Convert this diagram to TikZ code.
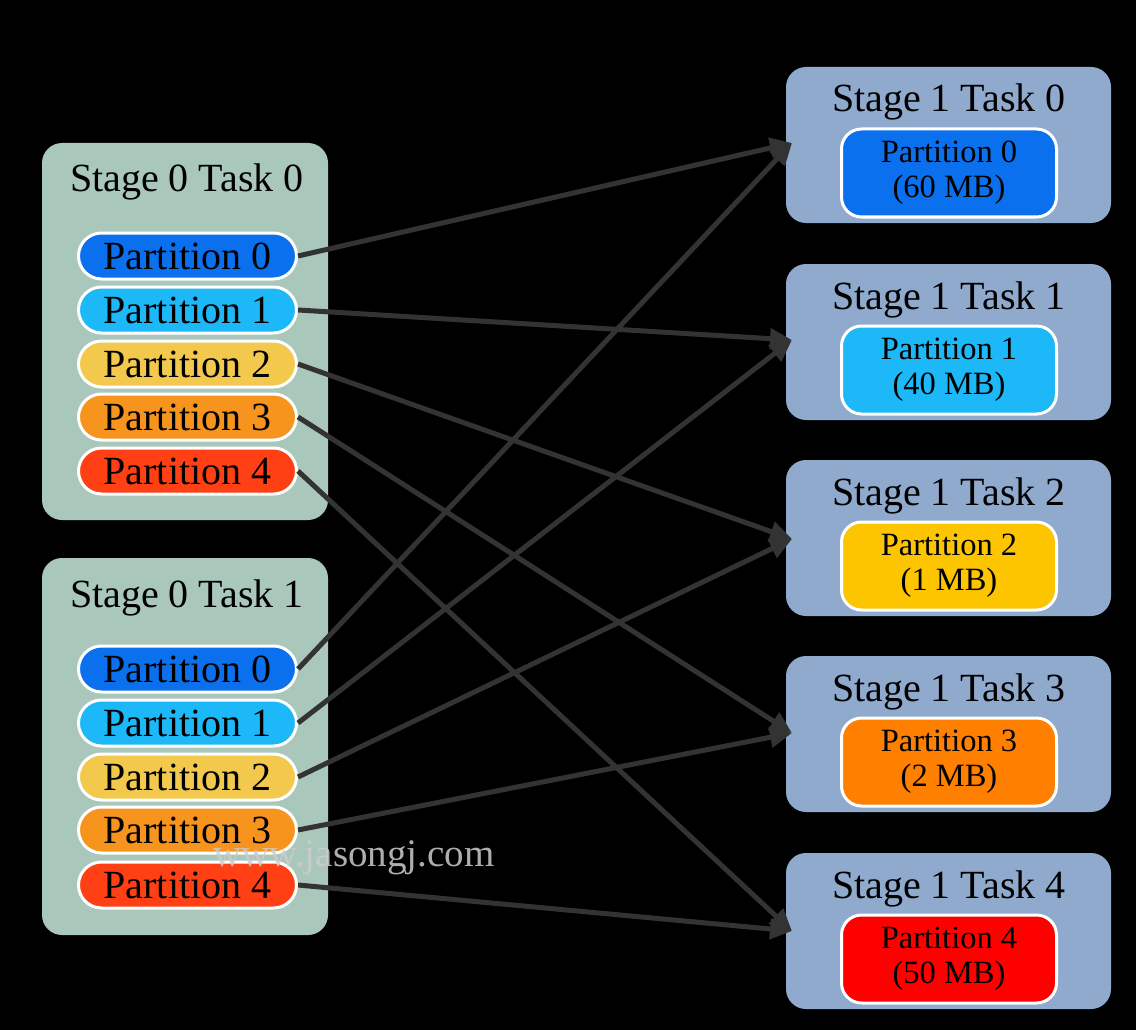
\documentclass[tikz,border=0pt]{standalone}
\usepackage{fontspec}
\setmainfont{Liberation Serif}
\usetikzlibrary{arrows.meta}
\definecolor{sage}{RGB}{169,199,187}
\definecolor{steel}{RGB}{143,170,204}
\definecolor{pblue}{RGB}{11,112,238}
\definecolor{pcyan}{RGB}{28,184,247}
\definecolor{pyelL}{RGB}{242,201,76}
\definecolor{poraL}{RGB}{247,148,29}
\definecolor{predL}{RGB}{255,63,20}
\definecolor{pyelR}{RGB}{252,197,0}
\definecolor{poraR}{RGB}{255,128,0}
\definecolor{predR}{RGB}{255,0,0}
\definecolor{arrowgray}{RGB}{51,51,51}
\definecolor{wmgray}{RGB}{205,205,205}
\tikzset{
  taskbox/.style={rounded corners=20pt, inner sep=0pt},
  pill/.style={draw=white, line width=3pt, rounded corners=23pt, minimum width=218pt, minimum height=46pt, inner sep=0pt, font=\fontsize{40}{42}\selectfont},
  inpart/.style={draw=white, line width=3pt, rounded corners=20pt, minimum width=215pt, minimum height=88pt, inner sep=0pt, align=center, font=\fontsize{32.5}{35}\selectfont},
  titletext/.style={anchor=base, inner sep=0pt, font=\fontsize{40}{42}\selectfont},
  flow/.style={draw=arrowgray, line width=5pt, -{Triangle[length=22pt,width=20pt]}},
}
\begin{document}
\begin{tikzpicture}[x=1pt,y=-1pt]
\fill[black] (0,0) rectangle (1136,1030);
\useasboundingbox (0,0) rectangle (1136,1030);
% left boxes
\fill[sage, taskbox] (42,143) rectangle (328,520);
\fill[sage, taskbox] (42,558) rectangle (328,935);
\node[titletext] (lt0) at (187,192) {Stage 0 Task 0};
\node[titletext] (lt1) at (187,607) {Stage 0 Task 1};
\node[pill, fill=pblue] (a0) at (187.5,256) {Partition 0};
\node[pill, fill=pcyan] (a1) at (187.5,310) {Partition 1};
\node[pill, fill=pyelL] (a2) at (187.5,364) {Partition 2};
\node[pill, fill=poraL] (a3) at (187.5,417) {Partition 3};
\node[pill, fill=predL] (a4) at (187.5,471) {Partition 4};
\node[pill, fill=pblue] (b0) at (187.5,669) {Partition 0};
\node[pill, fill=pcyan] (b1) at (187.5,723) {Partition 1};
\node[pill, fill=pyelL] (b2) at (187.5,777) {Partition 2};
\node[pill, fill=poraL] (b3) at (187.5,830) {Partition 3};
\node[pill, fill=predL] (b4) at (187.5,885) {Partition 4};
% right boxes
\foreach \i/\c/\col/\mb in {0/173/pblue/60, 1/370/pcyan/40, 2/566/pyelR/1, 3/762/poraR/2, 4/959/predR/50}{
  \fill[steel, taskbox] (786,\c-106) rectangle (1111,\c+50);
  \node[titletext] (rt\i) at (949,\c-61) {Stage 1 Task \i};
  \node[inpart, fill=\col] (r\i) at (949,\c) {Partition \i\\(\mb\ MB)};
}
% arrow targets
\coordinate (t0) at (792,143);
\coordinate (t1) at (792,340);
\coordinate (t2) at (792,539);
\coordinate (t3) at (792,733);
\coordinate (t4) at (792,931);
\foreach \k in {0,...,4}{
  \draw[flow] (a\k.east) -- (t\k);
  \draw[flow] (b\k.east) -- (t\k);
}
% watermark
\node[anchor=base west, inner sep=0pt, text=wmgray, opacity=0.85, font=\fontsize{39}{40}\selectfont] (wm) at (213,866) {www.jasongj.com};
\end{tikzpicture}
\end{document}
